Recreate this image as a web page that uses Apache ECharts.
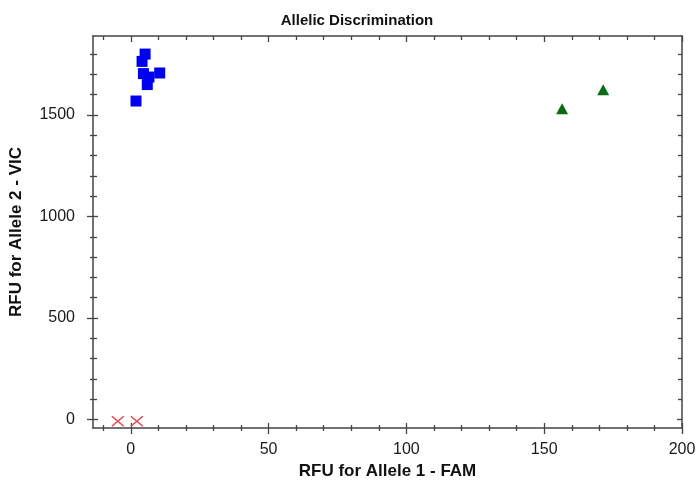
<!DOCTYPE html>
<html>
<head>
<meta charset="utf-8">
<script src="https://cdn.jsdelivr.net/npm/echarts@6/dist/echarts.min.js"></script>
<style>html,body{margin:0;padding:0;background:#fff}#c{width:699px;height:487px}</style>
</head>
<body>
<div id="c"></div>
<script>
// Data
var allele2Points = [[5.2,1799],[4.1,1763],[4.6,1703],[6.6,1686],[10.5,1706],[6.0,1649],[1.9,1568]];
var heteroPoints = [[156.5,1530],[171.4,1624]];
var noCallPoints = [[-4.7,-8],[2.2,-8]];
var xMajorTicks = [0,50,100,150,200];
var xMinorTicks = [-10,10,20,30,40,60,70,80,90,110,120,130,140,160,170,180,190];
var yMajorTicks = [0,500,1000,1500];
var yMinorTicks = [100,200,300,400,600,700,800,900,1100,1200,1300,1400,1600,1700,1800];
var xRange = [-13.7, 200];
var yRange = [-41, 1888];

var lineCol = '#444';
var font = 'Liberation Sans, Arial, sans-serif';

function axis(kind, pos, ticks, len, inside, opts) {
  var a = {
    type: 'value', position: pos,
    min: kind === 'x' ? xRange[0] : yRange[0],
    max: kind === 'x' ? xRange[1] : yRange[1],
    axisLine: {show: !!(opts && opts.line), onZero: false, lineStyle: {color: lineCol, width: 1.5}},
    axisTick: {show: true, inside: inside, length: len, customValues: ticks, lineStyle: {color: lineCol, width: 1.3}},
    axisLabel: {show: false},
    splitLine: {show: false}
  };
  if (opts && opts.labels) {
    a.axisLabel = {show: true, customValues: opts.labels, color: '#1a1a1a', fontSize: 16, fontFamily: font, margin: opts.margin,
      formatter: function (v) { return String(v); }};
  }
  if (opts && opts.name) {
    a.name = opts.name; a.nameLocation = 'middle'; a.nameGap = opts.nameGap;
    a.nameTextStyle = {fontSize: 17, fontWeight: 'bold', color: '#111', fontFamily: font};
  }
  return a;
}

var chart = echarts.init(document.getElementById('c'));
chart.setOption({
  animation: false,
  title: {text: 'Allelic Discrimination', left: 352, top: 8, textAlign: 'center',
    textStyle: {fontSize: 15, fontWeight: 'bold', color: '#111', fontFamily: font}},
  grid: {left: 93, right: 17, top: 36, bottom: 59, containLabel: false},
  xAxis: [
    axis('x','bottom', xMajorTicks, 6, false, {line: true, labels: xMajorTicks, margin: 14, name: 'RFU for Allele 1 - FAM', nameGap: 32}),
    axis('x','bottom', xMajorTicks, 5, true),
    axis('x','bottom', xMinorTicks, 3, false),
    axis('x','bottom', xMinorTicks, 3, true),
    axis('x','top', xMajorTicks, 6, true, {line: true}),
    axis('x','top', xMinorTicks, 4, true)
  ],
  yAxis: [
    axis('y','left', yMajorTicks, 6, false, {line: true, labels: yMajorTicks, margin: 18, name: 'RFU for Allele 2 - VIC', nameGap: 68}),
    axis('y','left', yMajorTicks, 5, true),
    axis('y','left', yMinorTicks, 3, false),
    axis('y','left', yMinorTicks, 4, true),
    axis('y','right', yMajorTicks, 5, true, {line: true}),
    axis('y','right', yMinorTicks, 4, true)
  ],
  series: [
    {type: 'scatter', name: 'Allele 2', data: allele2Points, symbol: 'rect', symbolSize: 11,
      itemStyle: {color: '#0000f0', opacity: 1}},
    {type: 'scatter', name: 'Both', data: heteroPoints, symbol: 'triangle', symbolSize: [12, 11],
      itemStyle: {color: '#0b6b12', opacity: 1}},
    {type: 'scatter', name: 'No call', data: noCallPoints, symbol: 'path://M0,0L10,10M10,0L0,10', symbolSize: [12, 10],
      itemStyle: {color: 'transparent', borderColor: '#e4474d', borderWidth: 1.3, opacity: 1}}
  ]
});
</script>
</body>
</html>
